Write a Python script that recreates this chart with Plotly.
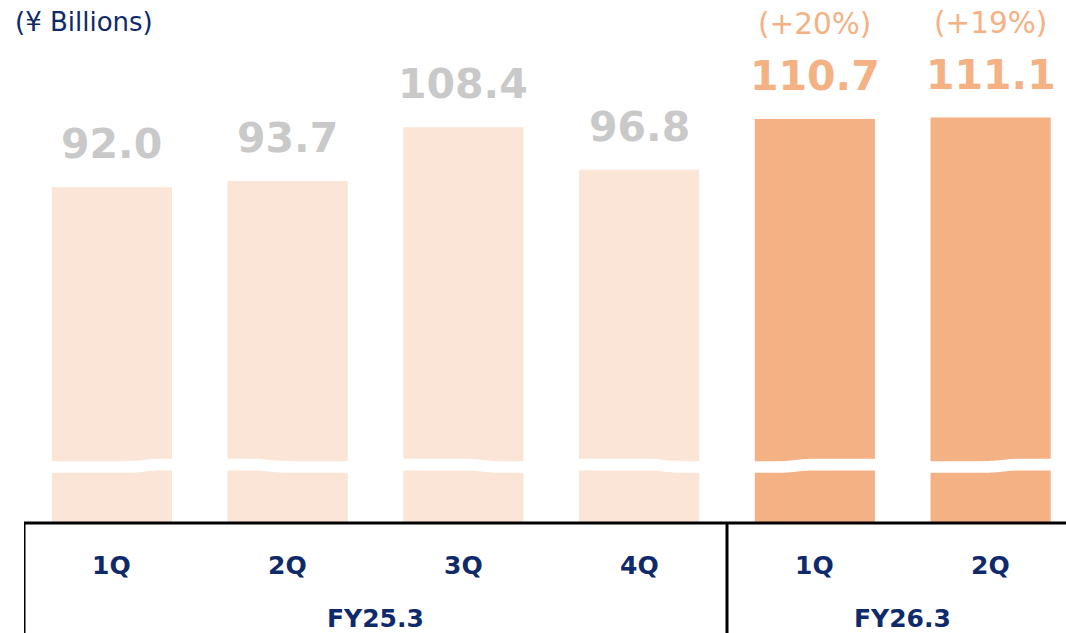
import plotly.graph_objects as go

# ---- data ----
quarters = ["1Q", "2Q", "3Q", "4Q", "1Q", "2Q"]
fiscal_years = ["FY25.3", "FY26.3"]
fy_quarter_counts = [4, 2]
values = [92.0, 93.7, 108.4, 96.8, 110.7, 111.1]
growth_labels = ["", "", "", "", "(+20%)", "(+19%)"]
unit_label = "(¥ Billions)"

# ---- styles ----
LIGHT = "#FBE5D6"
DARK = "#F4B183"
GRAY_TXT = "#C9C9C9"
NAVY = "#0F2A6B"
FONT = "DejaVu Sans"
BAR_W = 0.684
colors = [LIGHT] * 4 + [DARK] * 2
label_colors = [GRAY_TXT] * 4 + [DARK] * 2
# break decoration: direction (+1 left low / right high) and transition position
break_dir = [1, -1, -1, -1, 1, 1]
break_pos = [0.75, 0.35, 0.65, 0.7, 0.35, 0.6]
BREAK_TOP = 17.6
BREAK_STEP = 0.65
BREAK_THICK = 3.2

x = list(range(len(values)))

fig = go.Figure()
fig.add_trace(go.Bar(x=x, y=values, width=BAR_W, marker=dict(color=colors, line=dict(width=0)),
                     hoverinfo="skip"))

annotations = []
shapes = []
for i, v in enumerate(values):
    annotations.append(dict(x=i, y=v, xref="x", yref="y", text=f"<b>{v:.1f}</b>", showarrow=False,
                            yanchor="middle", yshift=43,
                            font=dict(family=FONT, size=41, color=label_colors[i])))
    if growth_labels[i]:
        annotations.append(dict(x=i, y=v, xref="x", yref="y", text=growth_labels[i], showarrow=False,
                                yanchor="middle", yshift=95,
                                font=dict(family=FONT, size=29.5, color=DARK)))
    annotations.append(dict(x=i, y=0, xref="x", yref="y", text=f"<b>{quarters[i]}</b>", showarrow=False,
                            yanchor="middle", yshift=-42,
                            font=dict(family=FONT, size=25, color=NAVY)))
    # break band
    w = BAR_W / 2 + 0.02
    xl, xr = i - w, i + w
    xm = xl + break_pos[i] * 2 * w
    d = 0.12
    if break_dir[i] == 1:
        tl, tr = BREAK_TOP - BREAK_STEP, BREAK_TOP
    else:
        tl, tr = BREAK_TOP, BREAK_TOP - BREAK_STEP
    bl, br = tl - BREAK_THICK, tr - BREAK_THICK
    path = (f"M {xl},{tl} L {xm-d},{tl} C {xm},{tl} {xm},{tr} {xm+d},{tr} L {xr},{tr} "
            f"L {xr},{br} L {xm+d},{br} C {xm},{br} {xm},{bl} {xm-d},{bl} L {xl},{bl} Z")
    shapes.append(dict(type="path", path=path, xref="x", yref="y", fillcolor="white",
                       line=dict(width=0), layer="above"))

# fiscal year labels and separators
start = 0
for fy, n in zip(fiscal_years, fy_quarter_counts):
    left = start - 0.5
    right = start + n - 0.5
    annotations.append(dict(x=(left + right) / 2, y=0, xref="x", yref="y", text=f"<b>{fy}</b>",
                            showarrow=False, yanchor="middle", yshift=-95,
                            font=dict(family=FONT, size=25, color=NAVY)))
    shapes.append(dict(type="line", xref="x", yref="paper", x0=left, x1=left, y0=0, y1=-0.3,
                       line=dict(color="black", width=3)))
    start += n

shapes.append(dict(type="line", xref="paper", yref="paper", x0=0, x1=1.1, y0=0, y1=0,
                   line=dict(color="black", width=3)))

PLOT_L, PLOT_W, PLOT_H, PLOT_B = 24, 1042, 523, 110
annotations.append(dict(x=(13 - PLOT_L) / PLOT_W, y=(633 - PLOT_B - 22) / PLOT_H,
                        xref="paper", yref="paper", text=unit_label, showarrow=False,
                        xanchor="left", yanchor="middle",
                        font=dict(family=FONT, size=26, color=NAVY)))

fig.update_layout(
    width=1066, height=633,
    margin=dict(l=PLOT_L, r=0, t=0, b=PLOT_B),
    paper_bgcolor="white", plot_bgcolor="white",
    showlegend=False,
    xaxis=dict(range=[-0.5, -0.5 + PLOT_W / 175.75], showticklabels=False, showgrid=False,
               zeroline=False, showline=False, fixedrange=True),
    yaxis=dict(range=[0, 143.3], visible=False, showgrid=False, fixedrange=True),
    annotations=annotations,
    shapes=shapes,
)

fig.write_html("out.html")
